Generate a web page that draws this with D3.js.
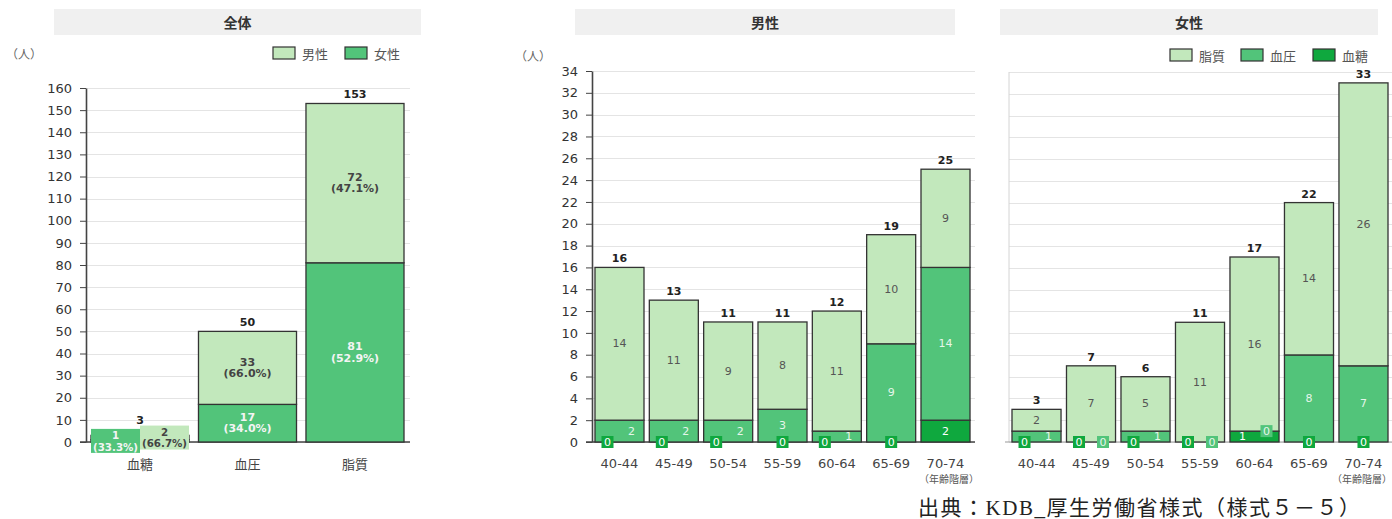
<!DOCTYPE html>
<html><head><meta charset="utf-8">
<script src="https://cdn.jsdelivr.net/npm/d3@7"></script>
<style>
html,body{margin:0;padding:0;background:#fff;}
svg{display:block;font-family:"DejaVu Sans","Noto Sans CJK JP",sans-serif;}
</style></head>
<body><svg id="chart" width="1392" height="519"></svg>
<script>
// ---- data ----
const overallCategories = ["血糖", "血圧", "脂質"];
const overallFemale = [1, 17, 81];
const overallMale = [2, 33, 72];
const overallTicks = d3.range(0, 161, 10);

const ageGroups = ["40-44", "45-49", "50-54", "55-59", "60-64", "65-69", "70-74"];
const maleGlucose = [0, 0, 0, 0, 0, 0, 2];
const maleBP = [2, 2, 2, 3, 1, 9, 14];
const maleLipid = [14, 11, 9, 8, 11, 10, 9];
const femaleGlucose = [0, 0, 0, 0, 1, 0, 0];
const femaleBP = [1, 0, 1, 0, 0, 8, 7];
const femaleLipid = [2, 7, 5, 11, 16, 14, 26];
const panelTicks = d3.range(0, 35, 2);

const panelTitles = ["全体", "男性", "女性"];
const sourceText = "出典：KDB_厚生労働省様式（様式５－５）";

// ---- style ----
const cLight = "#c2e8bc", cMid = "#52c47a", cDark = "#0fa83e";
const svg = d3.select("#chart");
const JP = "'Noto Sans CJK JP','DejaVu Sans',sans-serif";

function titleBand(x0, x1, text) {
  svg.append("rect").attr("x", x0).attr("y", 9).attr("width", x1 - x0).attr("height", 26).attr("fill", "#f0f0f0");
  svg.append("text").attr("x", (x0 + x1) / 2).attr("y", 22).attr("text-anchor", "middle")
    .attr("dominant-baseline", "central").attr("font-family", JP).attr("font-weight", "bold")
    .attr("font-size", 14).attr("fill", "#333").text(text);
}
function unitLabel(x, y) {
  svg.append("text").attr("x", x).attr("y", y).attr("dominant-baseline", "central")
    .attr("font-family", JP).attr("font-size", 12).attr("fill", "#666").text("（人）");
}
function legend(items, y) {
  items.forEach(it => {
    svg.append("rect").attr("x", it.x).attr("y", y).attr("width", 22).attr("height", 12)
      .attr("fill", it.color).attr("stroke", "#333").attr("stroke-width", 1.2);
    svg.append("text").attr("x", it.x + 29).attr("y", y + 6).attr("dominant-baseline", "central")
      .attr("font-family", JP).attr("font-size", 13).attr("fill", "#555").text(it.name);
  });
}

function drawPanel(o) {
  const g = svg.append("g");
  const x = d3.scaleBand().domain(o.categories).range(o.xRange).paddingInner(o.pi).paddingOuter(o.po);
  const y = d3.scaleLinear().domain([0, o.ymax]).range([442, o.yTop]);
  // grid
  g.selectAll("line.grid").data(o.ticks).join("line")
    .attr("x1", o.xRange[0]).attr("x2", o.gridEnd)
    .attr("y1", d => Math.round(y(d)) + 0.5).attr("y2", d => Math.round(y(d)) + 0.5)
    .attr("stroke", "#e4e4e4").attr("stroke-width", 1);
  // axis
  if (o.axis) {
    const ax = g.append("g").attr("transform", `translate(${o.xRange[0]},0)`)
      .call(d3.axisLeft(y).tickValues(o.ticks).tickSize(6).tickSizeOuter(0).tickPadding(8));
    ax.select(".domain").attr("stroke", "#444").attr("stroke-width", 1.6);
    ax.selectAll(".tick line").attr("stroke", "#444");
    ax.selectAll(".tick text").attr("font-family", "DejaVu Sans").attr("font-size", 13).attr("fill", "#333");
    g.append("line").attr("x1", o.xRange[0] - 6).attr("x2", o.gridEnd).attr("y1", 442).attr("y2", 442)
      .attr("stroke", "#444").attr("stroke-width", 1.4);
  } else {
    g.append("line").attr("x1", o.xRange[0]).attr("x2", o.xRange[0]).attr("y1", y(o.ymax)).attr("y2", 442)
      .attr("stroke", "#d4d4d4");
    g.append("line").attr("x1", o.xRange[0] - 4).attr("x2", o.gridEnd).attr("y1", 442).attr("y2", 442)
      .attr("stroke", "#999").attr("stroke-width", 1.2);
  }
  // stack
  const keys = o.series.map((s, k) => "s" + k);
  const rows = o.categories.map((c, i) => {
    const r = { cat: c };
    o.series.forEach((s, k) => r["s" + k] = s.values[i]);
    return r;
  });
  const stacked = d3.stack().keys(keys)(rows);
  stacked.forEach((layer, k) => {
    g.append("g").selectAll("rect").data(layer).join("rect")
      .attr("x", d => x(d.data.cat)).attr("width", x.bandwidth())
      .attr("y", d => y(d[1])).attr("height", d => y(d[0]) - y(d[1]))
      .attr("fill", o.series[k].color).attr("stroke", "#333").attr("stroke-width", 1.3);
  });
  // labels
  o.categories.forEach((c, i) => {
    const cx = x(c) + x.bandwidth() / 2;
    const total = d3.sum(o.series, s => s.values[i]);
    const labs = o.series.map((s, k) => {
      const y0 = y(stacked[k][i][0]), y1 = y(stacked[k][i][1]);
      return { v: s.values[i], s, yc: (y0 + y1) / 2, boxed: (y0 - y1) < 6, dx: 0 };
    });
    for (let k = 1; k < labs.length; k++) {
      if (labs[k - 1].yc - labs[k].yc < o.labelH) {
        labs[k - 1].dx = -o.shift;
        labs[k].dx = o.shift;
      }
    }
    let minBoxTop = Infinity;
    labs.forEach(l => {
      const lx = cx + l.dx;
      const lines = o.pct ? [String(l.v), "(" + d3.format(".1f")(l.v / total * 100) + "%)"] : [String(l.v)];
      if (l.boxed) {
        const bw = o.boxW, bh = o.labelH;
        minBoxTop = Math.min(minBoxTop, l.yc - bh / 2);
        g.append("rect").attr("x", lx - bw / 2).attr("y", l.yc - bh / 2).attr("width", bw).attr("height", bh)
          .attr("fill", l.s.color);
      }
      lines.forEach((t, j) => {
        g.append("text").attr("x", lx).attr("y", l.yc + (j - (lines.length - 1) / 2) * 11.5)
          .attr("text-anchor", "middle").attr("dominant-baseline", "central")
          .attr("font-size", (o.pct && l.boxed) ? 10.3 : 11).attr("font-weight", o.pct ? "bold" : "normal")
          .attr("fill", l.s.text).text(t);
      });
    });
    const barTop = y(total);
    const ty = Math.min(barTop - 5, minBoxTop - 2);
    g.append("text").attr("x", cx).attr("y", ty).attr("text-anchor", "middle")
      .attr("font-size", 11).attr("font-weight", "bold").attr("fill", "#222").text(total);
    // category label
    g.append("text").attr("x", cx).attr("y", 463).attr("text-anchor", "middle").attr("dominant-baseline", "central")
      .attr("font-family", o.pct ? JP : "DejaVu Sans").attr("font-size", 13).attr("fill", "#444").text(c);
  });
  if (o.ageLabel) {
    svg.append("text").attr("x", o.ageLabel).attr("y", 478).attr("text-anchor", "end").attr("dominant-baseline", "central")
      .attr("font-family", JP).attr("font-size", 10).attr("fill", "#555").text("（年齢階層）");
  }
}

// ---- panel 1: overall ----
titleBand(54, 421, panelTitles[0]);
unitLabel(6, 53);
legend([{ x: 273, color: cLight, name: "男性" }, { x: 345, color: cMid, name: "女性" }], 47);
drawPanel({
  categories: overallCategories, xRange: [86, 409], pi: 0.088, po: 0.0465,
  ymax: 160, yTop: 88, ticks: overallTicks, gridEnd: 410, axis: true,
  series: [{ values: overallFemale, color: cMid, text: "#f4f4f4" }, { values: overallMale, color: cLight, text: "#444" }],
  labelH: 24, boxW: 49, shift: 24.5, pct: true
});

// ---- panel 2: male ----
titleBand(575, 955, panelTitles[1]);
unitLabel(515, 55);
drawPanel({
  categories: ageGroups, xRange: [592, 973], pi: 0.098, po: 0.055,
  ymax: 34, yTop: 71, ticks: panelTicks, gridEnd: 975, axis: true,
  series: [{ values: maleGlucose, color: cDark, text: "#fff" }, { values: maleBP, color: cMid, text: "#e6f6ea" }, { values: maleLipid, color: cLight, text: "#555" }],
  labelH: 12, boxW: 12, shift: 12, pct: false, ageLabel: 979
});

// ---- panel 3: female ----
titleBand(1000, 1378, panelTitles[2]);
legend([{ x: 1170, color: cLight, name: "脂質" }, { x: 1241, color: cMid, name: "血圧" }, { x: 1313, color: cDark, name: "血糖" }], 49);
drawPanel({
  categories: ageGroups, xRange: [1009, 1391], pi: 0.1, po: 0.055,
  ymax: 34, yTop: 72, ticks: panelTicks, gridEnd: 1392, axis: false,
  series: [{ values: femaleGlucose, color: cDark, text: "#fff" }, { values: femaleBP, color: cMid, text: "#e6f6ea" }, { values: femaleLipid, color: cLight, text: "#555" }],
  labelH: 12, boxW: 12, shift: 12, pct: false, ageLabel: 1392
});

// ---- source ----
svg.append("text").attr("x", 918).attr("y", 508).attr("dominant-baseline", "central")
  .attr("font-family", "'Liberation Serif','Noto Sans CJK JP',serif").attr("font-size", 21)
  .attr("fill", "#222").attr("textLength", 442).attr("lengthAdjust", "spacing").text(sourceText);
</script></body></html>
